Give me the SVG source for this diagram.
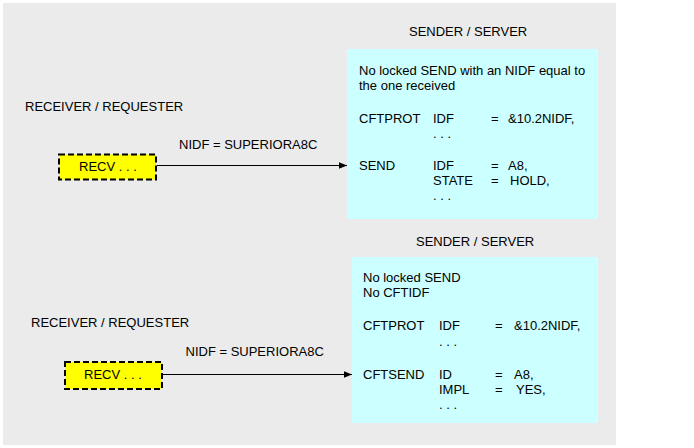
<svg xmlns="http://www.w3.org/2000/svg" width="694" height="448" viewBox="0 0 694 448">
<defs>
<style>
text{font-family:"Liberation Sans",Arial,sans-serif;font-size:13px;fill:#000}
.srv{fill:#ccffff}
.recv{fill:#ffff00;stroke:#000;stroke-width:2;stroke-dasharray:6,3}
.conn{stroke:#000;stroke-width:1.2;fill:none;marker-end:url(#ah)}
</style>
<marker id="ah" viewBox="0 0 10 10" refX="10" refY="5" markerWidth="10" markerHeight="8" markerUnits="userSpaceOnUse" orient="auto">
<path d="M0,1 L10,5 L0,9 z" fill="#000"/>
</marker>
</defs>
<rect width="694" height="448" fill="#fff"/>
<rect x="3" y="3" width="613" height="442" fill="#ebebeb"/>

<g id="sender1">
<text x="409" y="35.5">SENDER / SERVER</text>
<rect class="srv" x="347" y="49" width="251" height="170"/>
<text x="359" y="74.5">No locked SEND with an NIDF equal to</text>
<text x="359" y="89.5">the one received</text>
<text x="359" y="122.5">CFTPROT</text>
<text x="433" y="122.5">IDF</text>
<text x="491" y="122.5">=</text>
<text x="508" y="122.5">&amp;10.2NIDF,</text>
<text x="433" y="138">. . .</text>
<text x="359" y="169.5">SEND</text>
<text x="433" y="169.5">IDF</text>
<text x="491" y="169.5">=</text>
<text x="508" y="169.5">A8,</text>
<text x="433" y="184.5">STATE</text>
<text x="491" y="184.5">=</text>
<text x="510" y="184.5">HOLD,</text>
<text x="433" y="200">. . .</text>
</g>

<g id="sender2">
<text x="416" y="245.5">SENDER / SERVER</text>
<rect class="srv" x="352" y="257" width="246" height="166"/>
<text x="363" y="281.5">No locked SEND</text>
<text x="363" y="296.5">No CFTIDF</text>
<text x="363" y="330">CFTPROT</text>
<text x="439" y="330">IDF</text>
<text x="495" y="330">=</text>
<text x="514" y="330">&amp;10.2NIDF,</text>
<text x="439" y="346">. . .</text>
<text x="363" y="378.5">CFTSEND</text>
<text x="439" y="378.5">ID</text>
<text x="495" y="378.5">=</text>
<text x="514" y="378.5">A8,</text>
<text x="439" y="393.5">IMPL</text>
<text x="495" y="393.5">=</text>
<text x="516" y="393.5">YES,</text>
<text x="439" y="409">. . .</text>
</g>

<g id="receiver1">
<text x="25" y="110.5">RECEIVER / REQUESTER</text>
<rect class="recv" x="59" y="154.5" width="97" height="25"/>
<text x="79" y="171">RECV . . .</text>
</g>

<g id="receiver2">
<text x="31" y="326.5">RECEIVER / REQUESTER</text>
<rect class="recv" x="65" y="362" width="97" height="27"/>
<text x="84" y="378.5">RECV . . .</text>
</g>

<g id="connectors">
<line class="conn" x1="157" y1="165.5" x2="347" y2="165.5"/>
<text x="179" y="148.5">NIDF = SUPERIORA8C</text>
<line class="conn" x1="163" y1="374.5" x2="352" y2="374.5"/>
<text x="185.5" y="355.5">NIDF = SUPERIORA8C</text>
</g>
</svg>
